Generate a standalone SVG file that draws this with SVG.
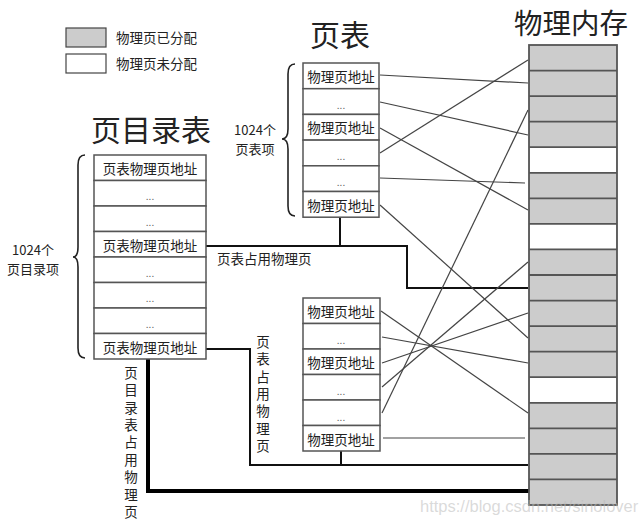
<svg xmlns="http://www.w3.org/2000/svg" width="640" height="526" viewBox="0 0 640 526">
<style>
text{font-family:"Noto Sans CJK SC","Liberation Sans",sans-serif;fill:#222;dominant-baseline:central}
.t{font-size:30px;text-anchor:middle}
.lbl{font-size:13.5px}
.two{font-size:13px;text-anchor:middle}
.vert{font-size:13.5px;writing-mode:tb;glyph-orientation-vertical:0;text-orientation:upright;letter-spacing:3.9px}
.cell{fill:#fff;stroke:#555;stroke-width:1.5}
.ct{font-size:13.5px;text-anchor:middle}
.dots{font-size:10px;text-anchor:middle;fill:#666}
.thin{stroke:#444;stroke-width:1.2;fill:none}
.bold{stroke:#111;stroke-width:2;fill:none}
.heavy{stroke:#000;stroke-width:4;fill:none}
.brace{stroke:#222;stroke-width:1.6;fill:none}
.mem{fill:#cccccc;stroke:#555;stroke-width:1.8}
.memw{fill:#fff}
.ml{stroke:#555;stroke-width:1.8}
</style>

<g id="legend">
<rect x="66" y="28" width="40" height="19" fill="#cccccc" stroke="#444" stroke-width="1.2"/>
<rect x="66" y="54" width="40" height="19" fill="#fff" stroke="#444" stroke-width="1.2"/>
<text class="lbl" x="116" y="37">物理页已分配</text>
<text class="lbl" x="116" y="63">物理页未分配</text>
</g>

<g id="titles">
<text class="t" x="151" y="128">页目录表</text>
<text class="t" x="340" y="33">页表</text>
<text class="t" x="571" y="21" style="font-size:28.5px">物理内存</text>
</g>

<g id="connectors">
<polyline class="bold" points="206,246 407,246 407,288 528,288"/>
<line class="bold" x1="340" y1="217" x2="340" y2="246"/>
<polyline class="bold" points="206,349 250,349 250,465 528,465"/>
<line class="bold" x1="341" y1="451" x2="341" y2="465"/>
<polyline class="heavy" points="148,359 148,491 529,491"/>
<line class="thin" x1="380" y1="75" x2="528" y2="83"/>
<line class="thin" x1="380" y1="102" x2="528" y2="135"/>
<line class="thin" x1="380" y1="128" x2="528" y2="210"/>
<line class="thin" x1="380" y1="153" x2="528" y2="60"/>
<line class="thin" x1="380" y1="178" x2="525" y2="183"/>
<line class="thin" x1="380" y1="205" x2="528" y2="338"/>
<line class="thin" x1="381" y1="311" x2="528" y2="413"/>
<line class="thin" x1="382" y1="337" x2="528" y2="363"/>
<line class="thin" x1="382" y1="363" x2="528" y2="313"/>
<line class="thin" x1="382" y1="387" x2="528" y2="262"/>
<line class="thin" x1="382" y1="413" x2="528" y2="110"/>
<line class="thin" x1="383" y1="438" x2="525" y2="438"/>
</g>

<g id="page-directory">
<path class="brace" d="M85,155 Q78,155 78,165 L78,247 Q78,257 73,257 Q78,257 78,267 L78,348 Q78,358 85,358"/>
<text class="two" x="33" y="249">1024个</text>
<text class="two" x="33" y="268.5">页目录项</text>
<rect class="cell" x="94" y="155" width="112" height="25.5"/>
<rect class="cell" x="94" y="180.5" width="112" height="25.5"/>
<rect class="cell" x="94" y="206" width="112" height="25.5"/>
<rect class="cell" x="94" y="231.5" width="112" height="25.5"/>
<rect class="cell" x="94" y="257" width="112" height="25.5"/>
<rect class="cell" x="94" y="282.5" width="112" height="25.5"/>
<rect class="cell" x="94" y="308" width="112" height="25.5"/>
<rect class="cell" x="94" y="333.5" width="112" height="25.5"/>
<text class="ct" x="150" y="168">页表物理页地址</text>
<text class="dots" x="150" y="195">...</text>
<text class="dots" x="150" y="221">...</text>
<text class="ct" x="150" y="245">页表物理页地址</text>
<text class="dots" x="150" y="272">...</text>
<text class="dots" x="150" y="297">...</text>
<text class="dots" x="150" y="323">...</text>
<text class="ct" x="150" y="347">页表物理页地址</text>
</g>

<g id="page-table-1">
<path class="brace" d="M295,64 Q288,64 288,74 L288,129 Q288,139 282,139 Q288,139 288,149 L288,206 Q288,216 295,216"/>
<text class="two" x="255" y="129">1024个</text>
<text class="two" x="255" y="148.5">页表项</text>
<rect class="cell" x="303" y="63" width="76" height="25.7"/>
<rect class="cell" x="303" y="88.7" width="76" height="25.7"/>
<rect class="cell" x="303" y="114.4" width="76" height="25.7"/>
<rect class="cell" x="303" y="140.1" width="76" height="25.7"/>
<rect class="cell" x="303" y="165.8" width="76" height="25.7"/>
<rect class="cell" x="303" y="191.5" width="76" height="25.7"/>
<text class="ct" x="341" y="76">物理页地址</text>
<text class="dots" x="341" y="104">...</text>
<text class="ct" x="341" y="127">物理页地址</text>
<text class="dots" x="341" y="155">...</text>
<text class="dots" x="341" y="181">...</text>
<text class="ct" x="341" y="205">物理页地址</text>
</g>

<g id="page-table-2">
<rect class="cell" x="303" y="298" width="77" height="25.5"/>
<rect class="cell" x="303" y="323.5" width="77" height="25.5"/>
<rect class="cell" x="303" y="349" width="77" height="25.5"/>
<rect class="cell" x="303" y="374.5" width="77" height="25.5"/>
<rect class="cell" x="303" y="400" width="77" height="25.5"/>
<rect class="cell" x="303" y="425.5" width="77" height="25.5"/>
<text class="ct" x="341" y="311">物理页地址</text>
<text class="dots" x="341" y="339">...</text>
<text class="ct" x="341" y="362">物理页地址</text>
<text class="dots" x="341" y="390">...</text>
<text class="dots" x="341" y="416">...</text>
<text class="ct" x="341" y="439">物理页地址</text>
</g>

<g id="labels">
<text class="lbl" x="217" y="258">页表占用物理页</text>
<text class="vert" x="263" y="335">页表占用物理页</text>
<text class="vert" x="131" y="366">页目录表占用物理页</text>
</g>

<g id="physical-memory">
<rect class="mem" x="529" y="45" width="88" height="460"/>
<rect class="memw" x="530" y="147.2" width="86" height="25.6"/>
<rect class="memw" x="530" y="223.9" width="86" height="25.5"/>
<rect class="memw" x="530" y="377.2" width="86" height="25.6"/>
<g class="ml">
<line x1="529" y1="70.6" x2="617" y2="70.6"/>
<line x1="529" y1="96.1" x2="617" y2="96.1"/>
<line x1="529" y1="121.7" x2="617" y2="121.7"/>
<line x1="529" y1="147.2" x2="617" y2="147.2"/>
<line x1="529" y1="172.8" x2="617" y2="172.8"/>
<line x1="529" y1="198.3" x2="617" y2="198.3"/>
<line x1="529" y1="223.9" x2="617" y2="223.9"/>
<line x1="529" y1="249.4" x2="617" y2="249.4"/>
<line x1="529" y1="275" x2="617" y2="275"/>
<line x1="529" y1="300.6" x2="617" y2="300.6"/>
<line x1="529" y1="326.1" x2="617" y2="326.1"/>
<line x1="529" y1="351.7" x2="617" y2="351.7"/>
<line x1="529" y1="377.2" x2="617" y2="377.2"/>
<line x1="529" y1="402.8" x2="617" y2="402.8"/>
<line x1="529" y1="428.3" x2="617" y2="428.3"/>
<line x1="529" y1="453.9" x2="617" y2="453.9"/>
<line x1="529" y1="479.4" x2="617" y2="479.4"/>
</g>
</g>

<text x="420" y="506" style="font-family:'Liberation Sans',sans-serif;font-size:16.5px;fill:#bbb;fill-opacity:0.55">https://blog.csdn.net/sinolover</text>
</svg>
